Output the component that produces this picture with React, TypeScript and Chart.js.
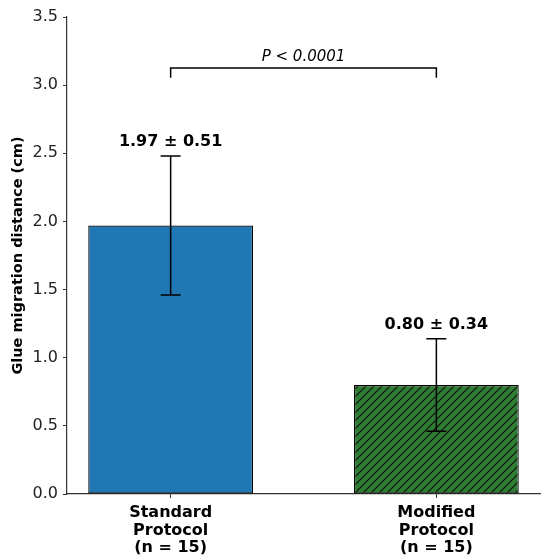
import React, { useEffect, useRef } from "react";
import { Chart, registerables } from "chart.js";

Chart.register(...registerables);

const categories: string[][] = [
  ["Standard", "Protocol", "(n = 15)"],
  ["Modified", "Protocol", "(n = 15)"],
];
const means: number[] = [1.97, 0.8];
const sds: number[] = [0.51, 0.34];
const pLabel = "P < 0.0001";
const yTitle = "Glue migration distance (cm)";
const bracketY = 3.125;
const bracketDrop = 0.07;

function makeHatch(color: string): CanvasPattern | string {
  const s = 8;
  const c = document.createElement("canvas");
  c.width = s;
  c.height = s;
  const g = c.getContext("2d");
  if (!g) return color;
  g.fillStyle = color;
  g.fillRect(0, 0, s, s);
  g.strokeStyle = "#111";
  g.lineWidth = 1.2;
  g.beginPath();
  g.moveTo(0, s);
  g.lineTo(s, 0);
  g.moveTo(-1, 1);
  g.lineTo(1, -1);
  g.moveTo(s - 1, s + 1);
  g.lineTo(s + 1, s - 1);
  g.stroke();
  const p = g.createPattern(c, "repeat");
  return p || color;
}

export default function App() {
  const ref = useRef<HTMLCanvasElement | null>(null);
  useEffect(() => {
    if (!ref.current) return;
    const hatch = makeHatch("#2e7d32");
    const overlay = {
      id: "overlay",
      afterDatasetsDraw(chart: any) {
        const ctx = chart.ctx;
        const xs = chart.scales.x;
        const ys = chart.scales.y;
        ctx.save();
        ctx.strokeStyle = "#000";
        ctx.lineWidth = 1.5;
        means.forEach((m, i) => {
          const x = xs.getPixelForValue(i);
          const top = ys.getPixelForValue(m + sds[i]);
          const bot = ys.getPixelForValue(m - sds[i]);
          ctx.beginPath();
          ctx.moveTo(x, top);
          ctx.lineTo(x, bot);
          ctx.moveTo(x - 10, top);
          ctx.lineTo(x + 10, top);
          ctx.moveTo(x - 10, bot);
          ctx.lineTo(x + 10, bot);
          ctx.stroke();
          ctx.fillStyle = "#000";
          ctx.font = "bold 16px 'DejaVu Sans'";
          ctx.textAlign = "center";
          ctx.textBaseline = "bottom";
          ctx.fillText(`${m.toFixed(2)} ± ${sds[i].toFixed(2)}`, x, top - 6);
        });
        const x0 = xs.getPixelForValue(0);
        const x1 = xs.getPixelForValue(1);
        const by = ys.getPixelForValue(bracketY);
        const bd = ys.getPixelForValue(bracketY - bracketDrop);
        ctx.lineWidth = 1.5;
        ctx.beginPath();
        ctx.moveTo(x0, bd);
        ctx.lineTo(x0, by);
        ctx.lineTo(x1, by);
        ctx.lineTo(x1, bd);
        ctx.stroke();
        ctx.fillStyle = "#000";
        ctx.font = "italic 15px 'DejaVu Sans'";
        ctx.textAlign = "center";
        ctx.textBaseline = "bottom";
        ctx.fillText(pLabel, (x0 + x1) / 2, by - 3);
        ctx.restore();
      },
    };
    const chart = new Chart(ref.current, {
      type: "bar",
      data: {
        datasets: [
          {
            data: means.map((m, i) => ({ x: i, y: m })),
            backgroundColor: ["#1f77b4", hatch as any],
            borderColor: "#000",
            borderWidth: 1.2,
            borderSkipped: false,
            categoryPercentage: 1,
            barPercentage: 0.62,
          },
        ],
      },
      options: {
        animation: false,
        responsive: false,
        maintainAspectRatio: false,
        layout: { padding: { top: 17, right: 10, left: 0, bottom: 4 } },
        plugins: { legend: { display: false }, tooltip: { enabled: false } },
        scales: {
          x: {
            type: "linear",
            min: -0.39,
            max: 1.39,
            offset: false,
            afterBuildTicks: (s: any) => {
              s.ticks = categories.map((_, i) => ({ value: i }));
            },
            afterFit: (s: any) => {
              s.height = 62;
            },
            ticks: {
              autoSkip: false,
              maxRotation: 0,
              color: "#000",
              font: { family: "'DejaVu Sans'", size: 16, weight: "bold", lineHeight: 1.1 },
              callback: (v: any) => categories[Math.round(Number(v))] || "",
              padding: 6,
            },
            grid: {
              display: true,
              offset: false,
              drawOnChartArea: false,
              drawTicks: true,
              tickLength: 4,
              color: "#333",
            },
            border: { display: true, color: "#333", width: 1.2 },
          },
          y: {
            min: 0,
            max: 3.5,
            afterFit: (s: any) => {
              s.width = 67;
            },
            ticks: {
              stepSize: 0.5,
              color: "#222",
              font: { family: "'DejaVu Sans'", size: 16 },
              callback: (v: any) => Number(v).toFixed(1),
              padding: 5,
            },
            grid: {
              display: true,
              drawOnChartArea: false,
              drawTicks: true,
              tickLength: 4,
              color: "#333",
            },
            border: { display: true, color: "#333", width: 1.2 },
            title: {
              display: true,
              text: yTitle,
              color: "#000",
              font: { family: "'DejaVu Sans'", size: 14.5, weight: "bold" },
              padding: { top: 10, bottom: 0 },
            },
          },
        },
      },
      plugins: [overlay],
    } as any);
    return () => chart.destroy();
  }, []);
  return (
    <div style={{ position: "fixed", left: 0, top: 0, width: 550, height: 560, background: "#fff" }}>
      <canvas ref={ref} width={550} height={560} style={{ width: 550, height: 560 }} />
    </div>
  );
}
